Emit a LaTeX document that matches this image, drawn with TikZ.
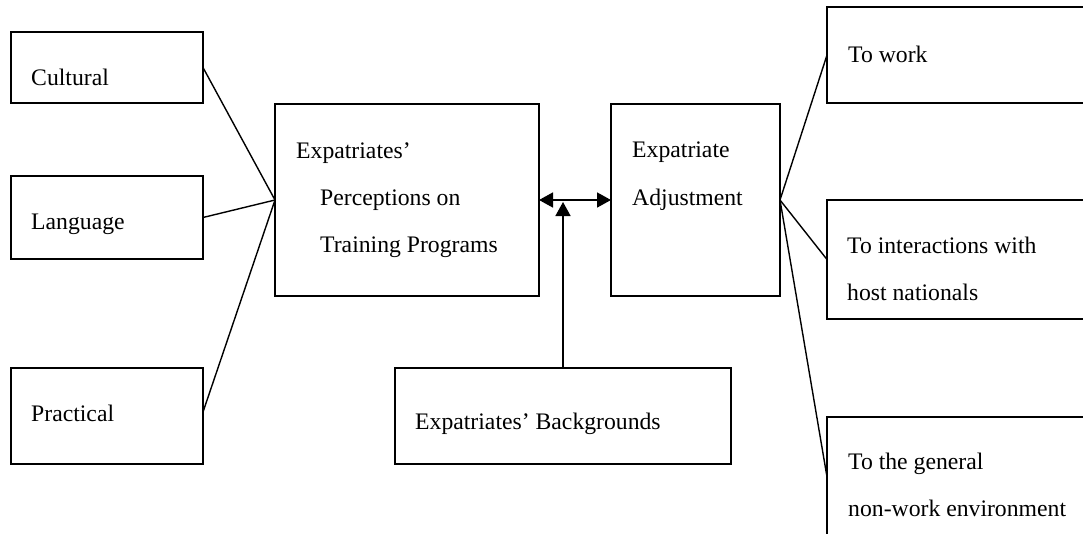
\documentclass[tikz,border=0pt]{standalone}
\usepackage{fontspec}
\setmainfont{Liberation Serif}
\usetikzlibrary{arrows.meta}
\begin{document}
\begin{tikzpicture}[x=1pt,y=-1pt,
  >={Triangle[length=14pt,width=15pt]},
  box/.style={draw, line width=1.8pt, inner sep=0pt, outer sep=0pt, anchor=north west},
  txt/.style={anchor=base west, inner sep=0pt, font=\fontsize{23.7}{28}\selectfont},
  link/.style={line width=1.4pt},
  arr/.style={line width=1.6pt}]
\useasboundingbox (0,0) rectangle (1083,533);
\clip (0,0) rectangle (1083,533);
% left boxes
\node[box, minimum width=192, minimum height=71] (cult) at (11,32) {};
\node[box, minimum width=192, minimum height=83] (lang) at (11,176) {};
\node[box, minimum width=192, minimum height=96] (prac) at (11,368) {};
% middle boxes
\node[box, minimum width=264, minimum height=192] (perc) at (275,104) {};
\node[box, minimum width=169, minimum height=192] (adj) at (611,104) {};
\node[box, minimum width=336, minimum height=96] (bg) at (395,368) {};
% right boxes (cut by the picture edge)
\node[box, minimum width=270, minimum height=96] (tw) at (827,7) {};
\node[box, minimum width=270, minimum height=119] (int) at (827,200) {};
\node[box, minimum width=270, minimum height=120] (gen) at (827,417) {};
% texts
\node[txt] (tcult) at (31,85) {Cultural};
\node[txt] (tlang) at (31,229) {Language};
\node[txt] (tprac) at (31,421) {Practical};
\node[txt] (tperc1) at (296,158) {Expatriates’};
\node[txt] (tperc2) at (320,205) {Perceptions on};
\node[txt] (tperc3) at (320,252) {Training Programs};
\node[txt] (tadj1) at (632,157) {Expatriate};
\node[txt] (tadj2) at (632,205) {Adjustment};
\node[txt] (tbg) at (415,429) {Expatriates’ Backgrounds};
\node[txt] (ttw) at (848,62) {To work};
\node[txt] (tint1) at (847,253) {To interactions with};
\node[txt] (tint2) at (847,300) {host nationals};
\node[txt] (tgen1) at (848,469) {To the general};
\node[txt] (tgen2) at (848,516) {non-work environment};
% connectors
\draw[link] (cult.east) -- (perc.west);
\draw[link] (lang.east) -- (perc.west);
\draw[link] ([yshift=4pt]prac.east) -- (perc.west);
\draw[link] (adj.east) -- (tw.west);
\draw[link] (adj.east) -- (int.west);
\draw[link] (adj.east) -- (gen.west);
\draw[arr, <->] (perc.east) -- (adj.west);
\draw[arr, ->] (bg.north) -- ([yshift=-2pt]bg.north |- perc.east);
\end{tikzpicture}
\end{document}
